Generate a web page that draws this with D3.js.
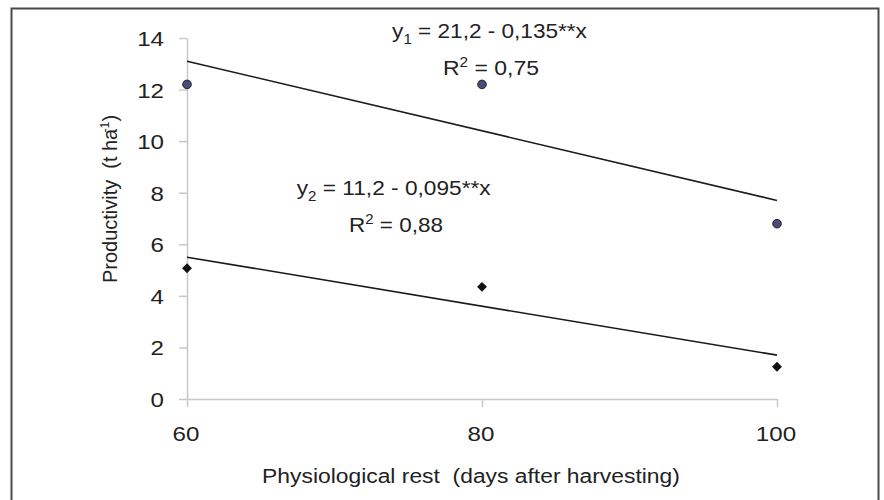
<!DOCTYPE html>
<html>
<head>
<meta charset="utf-8">
<script src="https://cdn.jsdelivr.net/npm/d3@7"></script>
<style>
  body { margin: 0; background: #fff; }
  svg text { font-family: "Liberation Sans", Arial, sans-serif; fill: #222; white-space: pre; }
</style>
</head>
<body>
<div id="chart"></div>
<script>
// Data
const days = [60, 80, 100];
const xTicks = [60, 80, 100];
const yTicks = [0, 2, 4, 6, 8, 10, 12, 14];
const series1 = [12.2, 12.2, 6.8];   // circles
const series2 = [5.07, 4.35, 1.25];  // diamonds
const fit1 = [13.1, 7.7];            // y1 = 21,2 - 0,135x at 60 and 100
const fit2 = [5.5, 1.7];             // y2 = 11,2 - 0,095x at 60 and 100

const width = 884;
const height = 500;
const fontSize = '21px';
const stretch = 1.15; // the original type is a bit wider than Liberation Sans

const svg = d3
  .select('#chart')
  .append('svg')
  .attr('width', width)
  .attr('height', height);

// Stretch a text horizontally so it spans the wanted width around cx
function fitWidth(t, cx, w) {
  const k = w / t.node().getComputedTextLength();
  t.attr('transform', `translate(${cx},0) scale(${k},1) translate(${-cx},0)`);
}

// Frame around the figure
svg
  .append('rect')
  .attr('x', 11.5)
  .attr('y', 8.5)
  .attr('width', 867)
  .attr('height', 510)
  .attr('fill', 'none')
  .attr('stroke', '#4a4a4a')
  .attr('stroke-width', 2);

const x = d3.scaleLinear().domain([60, 100]).range([187, 777]);
const y = d3.scaleLinear().domain([0, 14]).range([399, 38]);

// Y axis
const yAxis = svg
  .append('g')
  .attr('transform', `translate(${x(60)},0)`)
  .call(d3.axisLeft(y).tickValues(yTicks).tickSize(8).tickPadding(15).tickSizeOuter(0));
yAxis.select('.domain').attr('stroke', '#c8c8c8').attr('stroke-width', 1.5);
yAxis.selectAll('.tick line').attr('stroke', '#c8c8c8').attr('stroke-width', 1.5);
yAxis
  .selectAll('.tick text')
  .style('font-size', fontSize)
  .attr('fill', '#222')
  .attr('dy', '0.36em')
  .attr('x', 0)
  .attr('transform', `translate(-23,0) scale(${stretch},1)`);

// X axis
const xAxis = svg
  .append('g')
  .attr('transform', `translate(0,${y(0)})`)
  .call(d3.axisBottom(x).tickValues(xTicks).tickSize(8).tickPadding(19).tickSizeOuter(0));
xAxis.select('.domain').attr('stroke', '#c8c8c8').attr('stroke-width', 1.5);
xAxis.selectAll('.tick line').attr('stroke', '#c8c8c8').attr('stroke-width', 1.5);
xAxis
  .selectAll('.tick text')
  .style('font-size', fontSize)
  .attr('fill', '#222')
  .attr('transform', `translate(-1.5,0) scale(${stretch},1)`);

// Axis titles
const xTitle = svg
  .append('text')
  .attr('x', 471)
  .attr('y', 483)
  .attr('text-anchor', 'middle')
  .style('font-size', fontSize)
  .text('Physiological rest  (days after harvesting)');
fitWidth(xTitle, 471, 418);

const yTitle = svg
  .append('text')
  .attr('x', 0)
  .attr('y', 0)
  .attr('text-anchor', 'middle')
  .style('font-size', fontSize);
yTitle.append('tspan').text('Productivity  (t ha');
yTitle.append('tspan').attr('dy', -8).attr('dx', -4).style('font-size', '13px').text('-1');
yTitle.append('tspan').attr('dy', 8).text(')');
const ky = 172 / yTitle.node().getComputedTextLength();
yTitle.attr('transform', `translate(117,199) rotate(-90) scale(${ky},1)`);

// Regression lines
const line = d3
  .line()
  .x((d) => x(d[0]))
  .y((d) => y(d[1]));

[fit1, fit2].forEach((f) => {
  svg
    .append('path')
    .datum([[60, f[0]], [100, f[1]]])
    .attr('d', line)
    .attr('fill', 'none')
    .attr('stroke', '#1a1a1a')
    .attr('stroke-width', 1.6);
});

// Points
svg
  .append('g')
  .selectAll('circle')
  .data(series1)
  .join('circle')
  .attr('cx', (d, i) => x(days[i]))
  .attr('cy', (d) => y(d))
  .attr('r', 4.3)
  .attr('fill', '#4b4b78')
  .attr('stroke', '#222')
  .attr('stroke-width', 1);

svg
  .append('g')
  .selectAll('path')
  .data(series2)
  .join('path')
  .attr('transform', (d, i) => `translate(${x(days[i])},${y(d)})`)
  .attr('d', d3.symbol(d3.symbolDiamond2, 62))
  .attr('fill', '#111');

// Equations
function equation(cx, cy, w, sub, body, r2, cr, wr, ry) {
  const t = svg
    .append('text')
    .attr('x', cx)
    .attr('y', cy)
    .attr('text-anchor', 'middle')
    .style('font-size', fontSize);
  t.append('tspan').text('y');
  t.append('tspan').attr('dy', 6).style('font-size', '14px').text(sub);
  t.append('tspan').attr('dy', -6).text(' = ' + body);
  fitWidth(t, cx, w);

  const r = svg
    .append('text')
    .attr('x', cr)
    .attr('y', ry)
    .attr('text-anchor', 'middle')
    .style('font-size', fontSize);
  r.append('tspan').text('R');
  r.append('tspan').attr('dy', -8).style('font-size', '14px').text('2');
  r.append('tspan').attr('dy', 8).text(' = ' + r2);
  fitWidth(r, cr, wr);
}

equation(489.5, 38, 195, '1', '21,2 - 0,135**x', '0,75', 491, 96, 75);
equation(393.7, 195, 194, '2', '11,2 - 0,095**x', '0,88', 396, 94, 232.5);
</script>
</body>
</html>
